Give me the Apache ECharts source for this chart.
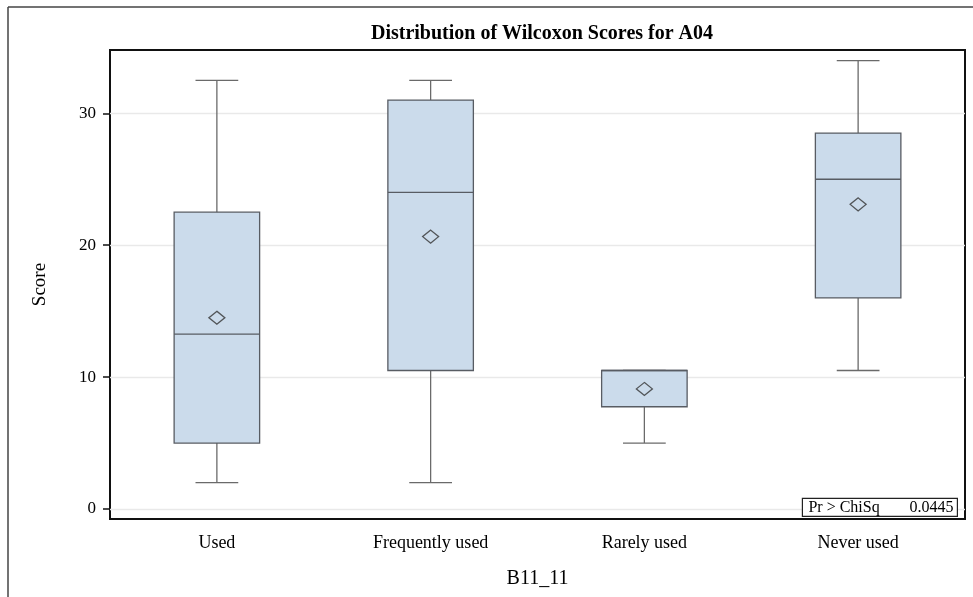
<!DOCTYPE html>
<html><head><meta charset="utf-8">
<script src="https://cdn.jsdelivr.net/npm/echarts@6/dist/echarts.min.js"></script>
<style>html,body{margin:0;padding:0;background:#fff}#c{width:973px;height:597px}</style>
</head><body><div id="c"></div>
<script>
const categories = ['Used', 'Frequently used', 'Rarely used', 'Never used'];
const minValues = [2, 2, 5, 10.5];
const q1Values = [5, 10.5, 7.75, 16];
const medianValues = [13.25, 24, 10.5, 25];
const q3Values = [22.5, 31, 10.5, 28.5];
const maxValues = [32.5, 32.5, 10.5, 34];
const meanValues = [14.5, 20.65, 9.1, 23.1];
const yTicks = [0, 10, 20, 30];
const statLabel = 'Pr > ChiSq';
const statValue = '0.0445';

const FONT = '"Liberation Serif", "Times New Roman", serif';
const boxData = categories.map((c, i) => [i, minValues[i], q1Values[i], medianValues[i], q3Values[i], maxValues[i]]);

function renderBox(params, api) {
  const i = api.value(0);
  const lo = api.coord([i, api.value(1)]);
  const q1 = api.coord([i, api.value(2)]);
  const med = api.coord([i, api.value(3)]);
  const q3 = api.coord([i, api.value(4)]);
  const hi = api.coord([i, api.value(5)]);
  const band = api.size([1, 0])[0];
  const bw = band * 0.4;
  const cx = lo[0];
  const x0 = cx - bw / 2;
  const cap = bw / 4;
  const ws = { stroke: '#6a6a6a', lineWidth: 1.3 };
  const bs = { stroke: '#585c63', lineWidth: 1.3 };
  return {
    type: 'group',
    children: [
      { type: 'line', shape: { x1: cx, y1: q3[1], x2: cx, y2: hi[1] }, style: ws },
      { type: 'line', shape: { x1: cx, y1: q1[1], x2: cx, y2: lo[1] }, style: ws },
      { type: 'line', shape: { x1: cx - cap, y1: hi[1], x2: cx + cap, y2: hi[1] }, style: ws },
      { type: 'line', shape: { x1: cx - cap, y1: lo[1], x2: cx + cap, y2: lo[1] }, style: ws },
      { type: 'rect', shape: { x: x0, y: q3[1], width: bw, height: q1[1] - q3[1] }, style: { fill: '#cbdbeb', stroke: '#585c63', lineWidth: 1.3 } },
      { type: 'line', shape: { x1: x0, y1: med[1], x2: x0 + bw, y2: med[1] }, style: bs }
    ]
  };
}

const chart = echarts.init(document.getElementById('c'), null, { renderer: 'canvas' });
chart.setOption({
  backgroundColor: '#fff',
  animation: false,
  title: {
    text: 'Distribution of Wilcoxon Scores for A04',
    left: 537, top: 19, textAlign: 'center',
    textStyle: { fontFamily: FONT, fontSize: 20, fontWeight: 'bold', color: '#000' }
  },
  grid: { left: 110, right: 8, top: 50, bottom: 78, show: true, borderColor: '#111', borderWidth: 2, backgroundColor: '#fff' },
  xAxis: {
    type: 'category', data: categories,
    name: 'B11_11', nameLocation: 'middle', nameGap: 50,
    nameTextStyle: { fontFamily: FONT, fontSize: 20, color: '#000' },
    axisLine: { onZero: false, lineStyle: { color: '#111', width: 2 } },
    axisTick: { alignWithLabel: true, length: 7, lineStyle: { color: '#111', width: 1.5 } },
    axisLabel: { margin: 15, fontFamily: FONT, fontSize: 18, color: '#000' },
    splitLine: { show: false }
  },
  yAxis: {
    type: 'value', min: -0.76, max: 34.8,
    name: 'Score', nameLocation: 'middle', nameGap: 60, nameRotate: 90,
    nameTextStyle: { fontFamily: FONT, fontSize: 19, color: '#000' },
    axisLine: { show: true, lineStyle: { color: '#111', width: 2 } },
    axisTick: { show: true, length: 7, customValues: yTicks, lineStyle: { color: '#111', width: 1.5 } },
    axisLabel: { margin: 14, fontFamily: FONT, fontSize: 17, color: '#000', customValues: yTicks },
    splitLine: { show: false }
  },
  series: [
    {
      type: 'custom', renderItem: renderBox, data: boxData,
      encode: { x: 0, y: [1, 2, 3, 4, 5] }, z: 3,
      markLine: {
        silent: true, symbol: 'none', label: { show: false },
        lineStyle: { color: '#e9e9e9', width: 1.3, type: 'solid' },
        data: yTicks.map(v => ({ yAxis: v })), z: 1
      }
    },
    {
      type: 'scatter', data: meanValues, symbol: 'diamond', symbolSize: [16, 13], z: 5,
      itemStyle: { color: 'rgba(0,0,0,0)', borderColor: '#333', borderWidth: 1.3 }
    }
  ],
  graphic: {
    zlevel: 1,
    elements: [
      { type: 'line', z: 100, shape: { x1: 8, y1: 7, x2: 973, y2: 7 }, style: { stroke: '#444', lineWidth: 1.5 } },
      { type: 'line', z: 100, shape: { x1: 8, y1: 7, x2: 8, y2: 597 }, style: { stroke: '#444', lineWidth: 1.5 } },
      {
        type: 'group', right: 15, bottom: 80, z: 100,
        children: [
          { type: 'rect', z: 100, shape: { x: 0, y: 0, width: 155, height: 18 }, style: { fill: '#fff', stroke: '#222', lineWidth: 1.2 } },
          { type: 'text', z: 101, x: 6, y: 9.5, style: { text: statLabel, fontFamily: FONT, fontSize: 16, fill: '#000', verticalAlign: 'middle' } },
          { type: 'text', z: 101, x: 151, y: 9.5, style: { text: statValue, fontFamily: FONT, fontSize: 16, fill: '#000', verticalAlign: 'middle', align: 'right' } }
        ]
      }
    ]
  }
});
</script>
</body></html>
